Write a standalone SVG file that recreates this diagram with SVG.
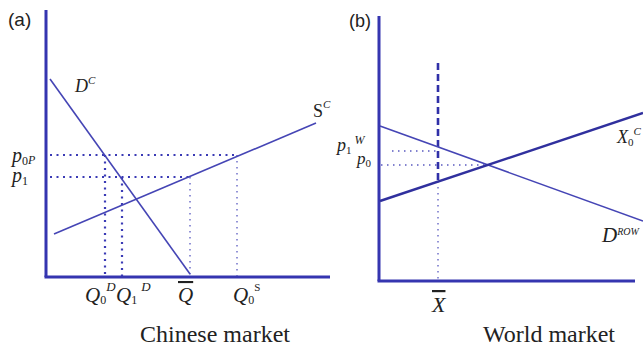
<svg xmlns="http://www.w3.org/2000/svg" width="643" height="348" viewBox="0 0 643 348">
<style>
.axis{stroke:#3535b0;stroke-width:3;fill:none}
.curve{stroke:#4545b5;stroke-width:1.6;fill:none}
.thick{stroke:#30309e;stroke-width:2.4;fill:none}
.dotB{stroke:#3a3ab5;stroke-width:2.2;stroke-dasharray:2 4.5;fill:none}
.dotT{stroke:#5a5ac0;stroke-width:1.3;stroke-dasharray:1.5 4.5;fill:none}
.dash{stroke:#3030a8;stroke-width:2.6;stroke-dasharray:7 4;fill:none}
.lbl{font-family:"Liberation Serif","Times New Roman",serif;font-style:italic;fill:#222}
.up{font-style:normal}
.tag{font-family:"Liberation Sans",Arial,sans-serif;fill:#222}
.title{font-family:"Liberation Serif","Times New Roman",serif;fill:#222;font-size:24px}
</style>
<rect width="643" height="348" fill="#fff"/>
<g id="panel-a-axes">
<line class="axis" x1="46" y1="10" x2="46" y2="277"/>
<line class="axis" x1="44.5" y1="277" x2="330" y2="277"/>
</g>
<g id="connectors">
<line class="dotB" x1="50" y1="155" x2="237" y2="155"/>
<line class="dotB" x1="50" y1="177" x2="190" y2="177"/>
<line class="dotB" x1="105" y1="155" x2="105" y2="276"/>
<line class="dotB" x1="122" y1="177" x2="122" y2="276"/>
<line class="dotT" x1="190" y1="177" x2="190" y2="276"/>
<line class="dotT" x1="237" y1="155" x2="237" y2="276"/>
<line class="dotT" x1="392" y1="151" x2="437" y2="151"/>
<line class="dotT" x1="381" y1="165" x2="487" y2="165"/>
<line class="dash" x1="438" y1="63" x2="438" y2="181"/>
<line class="dotT" x1="438" y1="181" x2="438" y2="280"/>
</g>
<g id="DC">
<line class="curve" x1="50" y1="79" x2="190" y2="274"/>
<text class="lbl" x="75" y="92" font-size="18">D<tspan font-size="11" dy="-8">C</tspan></text>
</g>
<g id="SC">
<line class="curve" x1="54" y1="234" x2="316" y2="123"/>
<text class="lbl up" x="313" y="117" font-size="18">S<tspan class="lbl" font-size="11" dy="-9">C</tspan></text>
</g>
<g id="panel-a-labels">
<text class="tag" x="8" y="26" font-size="19">(a)</text>
<text class="lbl" x="12" y="162" font-size="20">p<tspan class="up" font-size="12" dy="3">0</tspan><tspan font-size="12" dy="-1">P</tspan></text>
<text class="lbl" x="12" y="182" font-size="20">p<tspan class="up" font-size="12" dy="3">1</tspan></text>
<text class="lbl" x="85" y="302" font-size="21">Q<tspan class="up" font-size="12" dy="2">0</tspan><tspan font-size="13" dy="-13">D</tspan></text>
<text class="lbl" x="116" y="302" font-size="21">Q<tspan class="up" font-size="12" dy="2">1</tspan><tspan font-size="13" dx="4" dy="-13">D</tspan></text>
<text class="lbl" x="178" y="302" font-size="21" text-decoration="overline">Q</text>
<text class="lbl" x="233" y="302" font-size="21">Q<tspan class="up" font-size="12" dy="2">0</tspan><tspan class="up" font-size="11" dy="-13">S</tspan></text>
<text class="title" x="140" y="342">Chinese market</text>
</g>
<g id="panel-b-axes">
<line class="axis" x1="379" y1="16" x2="379" y2="281"/>
<line class="axis" x1="377.5" y1="281" x2="635" y2="281"/>
</g>
<g id="DROW">
<line class="curve" x1="380" y1="126" x2="643" y2="221"/>
<text class="lbl" x="602" y="242" font-size="21">D<tspan font-size="10" dy="-7">ROW</tspan></text>
</g>
<g id="X0C">
<line class="thick" x1="380" y1="201" x2="643" y2="113"/>
<text class="lbl" x="617" y="143" font-size="18">X<tspan class="up" font-size="11" dy="3">0</tspan><tspan font-size="11" dy="-11">C</tspan></text>
</g>
<g id="panel-b-labels">
<text class="tag" x="349" y="27" font-size="18">(b)</text>
<text class="lbl" x="337" y="151" font-size="18">p<tspan class="up" font-size="11" dy="3">1</tspan><tspan font-size="12" dx="3" dy="-10">W</tspan></text>
<text class="lbl" x="357" y="164" font-size="17">p<tspan class="up" font-size="11" dy="3">0</tspan></text>
<text class="lbl" x="432" y="312" font-size="22" text-decoration="overline">X</text>
<text class="title" x="483" y="342">World market</text>
</g>
</svg>
